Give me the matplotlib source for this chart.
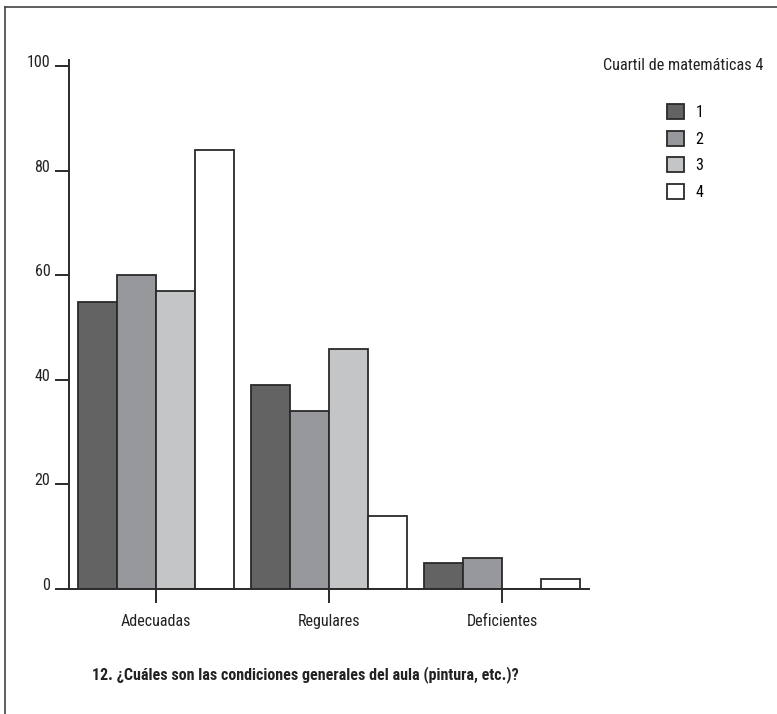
import matplotlib
matplotlib.use("Agg")
import matplotlib.pyplot as plt
import matplotlib.transforms as mtransforms
from matplotlib.patches import Patch
from matplotlib.lines import Line2D
import numpy as np

plt.rcParams['font.family'] = ['Roboto Condensed', 'DejaVu Sans']

categories = ["Adecuadas", "Regulares", "Deficientes"]
series_labels = ["1", "2", "3", "4"]
values = {
    "1": [55, 39, 5],
    "2": [60, 34, 6],
    "3": [57, 46, 0],
    "4": [84, 14, 2],
}
colors = ["#636363", "#97989b", "#c4c5c7", "#ffffff"]
yticks = [0, 20, 40, 60, 80, 100]
legend_title = "Cuartil de matemáticas 4"
title = "12. ¿Cuáles son las condiciones generales del aula (pintura, etc.)?"

W, H = 777, 714
fig = plt.figure(figsize=(W / 100, H / 100), dpi=100)
ax = fig.add_axes([69 / W, 125 / H, 520 / W, 529 / H])

x = np.arange(len(categories))
bw = 0.225
edge = "#2a2a2a"
for i, s in enumerate(series_labels):
    ax.bar(x + (i - 1.5) * bw, values[s], width=bw, color=colors[i],
           edgecolor=edge, linewidth=1.3, label=s)

ax.set_xlim(-0.5, 2.5)
ax.set_ylim(0, 101.2)
ax.set_yticks(yticks)
ax.set_xticks(x)
ax.set_xticklabels(categories)
for sp in ["top", "right"]:
    ax.spines[sp].set_visible(False)
for sp in ["left", "bottom"]:
    ax.spines[sp].set_linewidth(1.4)
    ax.spines[sp].set_color(edge)
ax.tick_params(axis="both", direction="out", length=10, width=1.4,
               color=edge, labelsize=11.5, labelcolor="#222222")
ax.tick_params(axis="x", pad=8)
ax.tick_params(axis="y", pad=3.5)
off = mtransforms.ScaledTranslation(0, 5 / 100, fig.dpi_scale_trans)
for lbl in ax.get_yticklabels():
    lbl.set_transform(lbl.get_transform() + off)
ax.spines["bottom"].set_bounds(-0.5, 2.5)

# legend
handles = [Patch(facecolor=colors[i], edgecolor=edge, linewidth=1.3)
           for i in range(len(series_labels))]
fig.legend(handles, series_labels, loc="upper left",
           bbox_to_anchor=(667 / W, 1 - 104 / H), frameon=False,
           prop={"size": 11.5}, handlelength=1.05, handleheight=1.05,
           labelspacing=0.68, handletextpad=0.75, borderpad=0,
           borderaxespad=0)
fig.text(603 / W, 1 - 65 / H, legend_title, fontsize=11.7, va="center",
         ha="left", color="#222222")

fig.text(92 / W, 1 - 675 / H, title, fontsize=11.5, fontweight="bold",
         va="center", ha="left", color="#222222")

# frame lines (top and left)
fig.add_artist(Line2D([5 / W, 5 / W], [0, 1 - 7 / H], transform=fig.transFigure,
                      color="#444444", linewidth=1.2))
fig.add_artist(Line2D([5 / W, 1], [1 - 7 / H, 1 - 7 / H], transform=fig.transFigure,
                      color="#444444", linewidth=1.2))

fig.savefig("out.png", dpi=100)
